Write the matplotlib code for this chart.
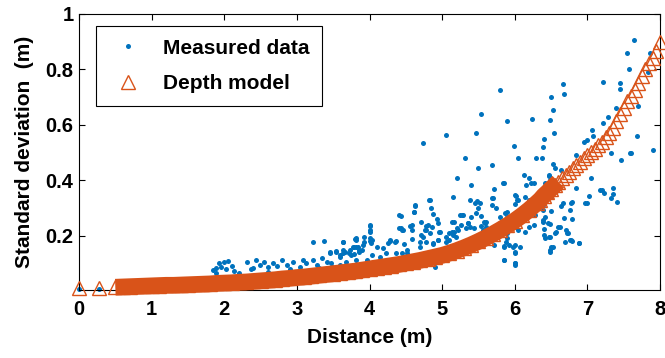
import matplotlib
matplotlib.use("Agg")
import matplotlib.pyplot as plt
import numpy as np

plt.rcParams['font.family'] = ['Liberation Sans', 'DejaVu Sans']
plt.rcParams['font.weight'] = 'bold'

blue = '#0072BD'
orange = '#D95319'

# measured standard deviation (distance m, std m)
meas_x = [0.00, 0.27, 0.60, 0.90, 1.20, 1.50, 1.70,
          1.84, 1.89, 1.93, 1.96, 2.00, 2.05, 2.03, 2.10, 2.14, 1.88, 2.20, 2.60,
          2.32, 2.37, 2.44, 2.49, 2.55, 2.60, 2.67, 2.73, 2.80, 2.87, 2.94, 3.04, 3.08, 3.13,
          3.22, 3.28, 3.34, 3.41, 3.45, 3.49, 3.54, 3.59, 3.66, 3.68, 3.75, 3.79, 3.82, 3.85,
          3.47, 2.40, 2.90, 3.30, 3.60,
          3.22, 3.38, 3.63, 3.80,
          5.90, 4.74, 5.05, 5.46, 5.32, 5.69, 5.50, 5.21, 5.84, 5.40, 5.71, 5.15, 4.82, 5.39,
          5.45, 5.68, 4.63, 4.84, 4.61, 5.49, 5.74, 4.43, 4.87, 5.24, 5.27, 4.93, 5.53, 4.71,
          5.35, 5.61, 5.14, 4.00, 4.00, 4.41, 4.45, 4.56, 4.78, 4.76, 4.86, 4.96, 4.83, 4.71,
          5.10, 5.17, 5.06, 5.19, 5.38, 5.44, 5.54, 5.58, 3.82, 3.93, 4.00, 4.10, 4.18, 4.28,
          4.37, 4.47, 4.58, 4.69, 4.78, 4.87, 4.94, 3.82, 3.90, 3.72, 3.79, 4.03, 4.14, 4.23,
          4.37, 4.45, 4.52, 3.96, 4.32, 5.85, 5.72, 5.85, 4.90, 5.89, 5.54,
          5.17, 5.20, 5.22, 5.13, 5.15, 5.10, 5.06, 4.94, 4.97, 4.94, 4.87, 4.83, 4.80, 4.78,
          4.74, 4.69, 4.62, 4.61, 4.58, 4.58, 4.41, 4.44, 4.46, 4.51, 4.28, 4.25, 4.35, 4.00,
          4.00, 4.00, 4.04, 4.02, 3.93, 3.91, 3.82, 3.84, 3.86, 3.77, 3.73, 3.63, 3.63, 3.63,
          3.59, 3.54, 3.45,
          5.70, 5.68, 5.48, 5.52, 5.47, 5.40, 5.29, 5.26, 5.36, 5.33, 5.59, 5.56, 5.61, 6.02,
          6.04, 6.00, 5.86, 5.88, 6.02, 6.04, 5.88, 5.92, 5.98, 6.00, 6.00, 6.01, 5.85, 6.21,
          6.23, 6.28, 6.39, 6.39, 6.41, 6.39, 6.46, 6.62, 6.57, 6.71, 6.72, 6.48, 6.69, 6.76,
          6.79, 6.88, 6.48, 6.50, 6.76, 6.66, 6.79, 7.02, 6.99, 7.17, 7.23, 7.35, 7.35, 7.41,
          7.64, 7.55, 7.57, 5.79, 6.66, 6.68, 7.22, 7.45, 7.45, 6.50, 6.52, 6.24, 6.49, 6.54,
          6.40, 6.39, 5.99, 7.21, 7.29, 7.40, 7.70, 7.06, 7.08, 6.96, 7.00, 7.68, 7.90, 6.84,
          7.33, 7.58, 6.05, 6.29, 6.37, 7.86, 7.83, 6.13, 6.20, 6.47, 6.52, 6.56, 6.63, 7.46,
          7.60,
          5.85, 6.16, 6.23, 6.26, 6.41, 6.47, 6.49, 7.05, 6.84, 6.01, 6.14, 6.03, 7.20, 7.33,
          6.97, 6.78, 6.64, 6.50, 6.20, 5.90, 5.79, 5.90, 6.50, 6.39, 6.68, 6.79, 6.27, 6.20,
          6.14, 6.48, 6.60, 6.73, 6.40, 6.40, 6.41, 6.47, 6.55, 6.77, 6.88, 6.52, 6.49, 5.90,
          6.00, 6.07, 5.85, 6.01, 6.00, 5.79]
meas_y = [0.010, 0.010, 0.015, 0.017, 0.020, 0.022, 0.025,
          0.077, 0.083, 0.101, 0.087, 0.107, 0.110, 0.079, 0.091, 0.074, 0.065, 0.065, 0.070,
          0.107, 0.079, 0.113, 0.095, 0.107, 0.087, 0.101, 0.091, 0.113, 0.095, 0.107, 0.087, 0.113, 0.101,
          0.113, 0.095, 0.119, 0.107, 0.137, 0.089, 0.146, 0.125, 0.143, 0.107, 0.131, 0.161, 0.113, 0.143,
          0.101, 0.085, 0.080, 0.085, 0.095,
          0.178, 0.180, 0.178, 0.190,
          0.615, 0.535, 0.563, 0.570, 0.480, 0.455, 0.445, 0.410, 0.390, 0.385, 0.370, 0.340, 0.330, 0.330,
          0.320, 0.335, 0.310, 0.300, 0.285, 0.300, 0.300, 0.270, 0.280, 0.275, 0.275, 0.260, 0.270, 0.250,
          0.245, 0.250, 0.250, 0.235, 0.215, 0.228, 0.220, 0.235, 0.235, 0.220, 0.232, 0.215, 0.210, 0.203,
          0.210, 0.215, 0.196, 0.196, 0.232, 0.228, 0.235, 0.250, 0.193, 0.196, 0.180, 0.160, 0.155, 0.180,
          0.180, 0.170, 0.190, 0.160, 0.177, 0.170, 0.185, 0.160, 0.148, 0.137, 0.133, 0.130, 0.125, 0.140,
          0.137, 0.140, 0.137, 0.113, 0.113, 0.163, 0.166, 0.113, 0.088, 0.210, 0.640,
          0.251, 0.227, 0.221, 0.215, 0.203, 0.185, 0.179, 0.245, 0.215, 0.185, 0.173, 0.329, 0.239, 0.221,
          0.197, 0.179, 0.308, 0.287, 0.239, 0.221, 0.275, 0.227, 0.221, 0.149, 0.185, 0.173, 0.179, 0.239,
          0.221, 0.192, 0.185, 0.173, 0.179, 0.167, 0.185, 0.161, 0.149, 0.161, 0.149, 0.179, 0.149, 0.137,
          0.131, 0.143, 0.143,
          0.335, 0.311, 0.327, 0.317, 0.281, 0.269, 0.275, 0.239, 0.245, 0.227, 0.245, 0.221, 0.233, 0.344,
          0.329, 0.315, 0.281, 0.221, 0.233, 0.221, 0.179, 0.167, 0.161, 0.143, 0.101, 0.095, 0.113, 0.305,
          0.287, 0.275, 0.311, 0.293, 0.269, 0.251, 0.245, 0.233, 0.215, 0.221, 0.209, 0.197, 0.179, 0.185,
          0.183, 0.173, 0.149, 0.161, 0.293, 0.317, 0.323, 0.344, 0.317, 0.365, 0.353, 0.371, 0.351, 0.323,
          0.906, 0.860, 0.800, 0.726, 0.747, 0.710, 0.753, 0.750, 0.730, 0.700, 0.653, 0.620, 0.617, 0.570,
          0.550, 0.520, 0.524, 0.607, 0.628, 0.660, 0.668, 0.580, 0.560, 0.540, 0.545, 0.560, 0.510, 0.490,
          0.500, 0.497, 0.480, 0.480, 0.480, 0.860, 0.790, 0.420, 0.410, 0.420, 0.458, 0.445, 0.437, 0.473,
          0.500,
          0.390, 0.383, 0.390, 0.390, 0.390, 0.415, 0.400, 0.410, 0.374, 0.347, 0.340, 0.330, 0.365, 0.337,
          0.318, 0.318, 0.308, 0.340, 0.330, 0.286, 0.268, 0.268, 0.290, 0.257, 0.264, 0.260, 0.240, 0.232,
          0.214, 0.243, 0.233, 0.210, 0.224, 0.203, 0.192, 0.196, 0.210, 0.185, 0.175, 0.160, 0.142, 0.192,
          0.167, 0.160, 0.160, 0.138, 0.102, 0.245]

# depth model
model_x = [0.00, 0.27,
           0.50, 0.60, 0.70, 0.80, 0.90, 1.00, 1.10, 1.20, 1.30, 1.40, 1.50, 1.60, 1.70, 1.80,
           1.90, 2.00, 2.10, 2.20, 2.30, 2.40, 2.50, 2.60, 2.70, 2.80, 2.90, 3.00, 3.10, 3.20,
           3.30, 3.40, 3.50, 3.60, 3.70, 3.80, 3.90, 4.00, 4.10, 4.20, 4.30, 4.40, 4.50, 4.60,
           4.70, 4.80, 4.90, 5.00, 5.10, 5.20, 5.30, 5.40, 5.50, 5.60, 5.70, 5.80, 5.90, 6.00,
           6.10, 6.20, 6.30, 6.35, 6.40, 6.45, 6.50, 6.55, 6.60, 6.65, 6.70, 6.75, 6.80, 6.85,
           6.90, 6.95, 7.00, 7.05, 7.10, 7.15, 7.20, 7.25, 7.30, 7.35, 7.40, 7.45, 7.50, 7.55,
           7.60, 7.65, 7.70, 7.75, 7.80, 7.85, 7.90, 7.95, 8.00]
model_y = [0.012, 0.012,
           0.015, 0.016, 0.017, 0.018, 0.019, 0.020, 0.021, 0.022, 0.022, 0.023, 0.024, 0.025, 0.026, 0.027,
           0.029, 0.030, 0.031, 0.033, 0.034, 0.036, 0.038, 0.040, 0.042, 0.045, 0.047, 0.050, 0.052, 0.055,
           0.058, 0.061, 0.064, 0.067, 0.070, 0.073, 0.077, 0.081, 0.085, 0.089, 0.093, 0.097, 0.102, 0.107,
           0.112, 0.118, 0.124, 0.130, 0.138, 0.147, 0.157, 0.168, 0.180, 0.193, 0.207, 0.222, 0.238, 0.255,
           0.274, 0.295, 0.318, 0.330, 0.345, 0.357, 0.370, 0.382, 0.395, 0.407, 0.420, 0.432, 0.445, 0.457,
           0.468, 0.480, 0.490, 0.503, 0.515, 0.528, 0.540, 0.555, 0.570, 0.590, 0.615, 0.640, 0.660, 0.685,
           0.705, 0.725, 0.750, 0.775, 0.800, 0.825, 0.840, 0.865, 0.900]

fig = plt.figure(figsize=(6.65, 3.58), dpi=100)
ax = fig.add_axes([0.1188, 0.19, 0.8737, 0.771])

ax.plot(meas_x, meas_y, 'o', color=blue, ms=3.6, mec='none',
        label='Measured data', zorder=2, clip_on=False)

# dense part of the model drawn as a solid band underneath the triangles
mx = np.array(model_x)
my = np.array(model_y)
dense = (mx >= 0.5) & (mx <= 6.6)
ax.plot(mx[dense], my[dense], '-', color=orange, lw=12, solid_capstyle='butt',
        zorder=3, clip_on=False)
ax.plot(model_x, model_y, '^', mfc='none', mec=orange, ms=10.5, mew=1.0,
        label='Depth model', zorder=3, clip_on=False)

ax.set_xlim(0, 8)
ax.set_ylim(0.005, 1)
ax.set_xticks(range(0, 9))
ax.set_yticks([0.2, 0.4, 0.6, 0.8, 1.0])
ax.set_yticklabels(['0.2', '0.4', '0.6', '0.8', '1'])
ax.tick_params(direction='in', length=4, width=0.8, top=True, right=True,
               labelsize=14.5)
ax.tick_params(axis='x', pad=7)
ax.tick_params(axis='y', pad=4)
for s in ax.spines.values():
    s.set_linewidth(0.8)

ax.set_xlabel('Distance (m)', fontsize=15, fontweight='bold', labelpad=7)
ax.set_ylabel('Standard deviation  (m)', fontsize=15, fontweight='bold', labelpad=8)

leg = ax.legend(loc='upper left', bbox_to_anchor=(0.029, 0.957), numpoints=1,
                fontsize=15, frameon=True, fancybox=False, framealpha=1,
                edgecolor='black', borderpad=0.62, labelspacing=0.8,
                handlelength=1.85, handletextpad=0.75, borderaxespad=0)
leg.get_frame().set_linewidth(0.8)
for t in leg.get_texts():
    t.set_fontweight('bold')

fig.savefig('out.png', dpi=100)
